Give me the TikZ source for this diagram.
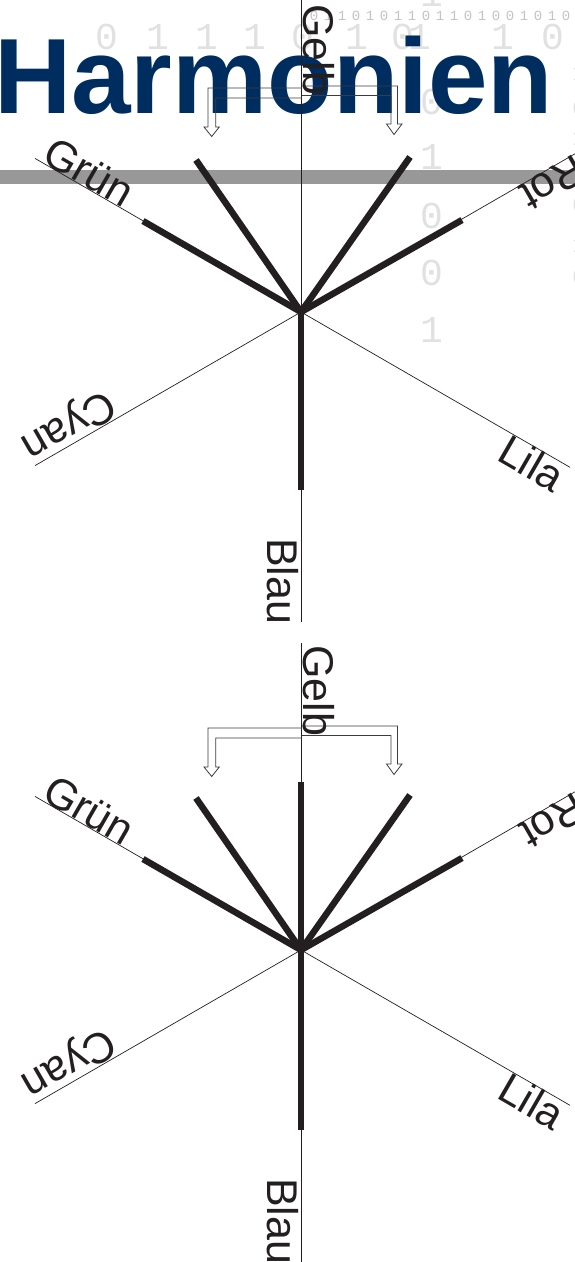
\documentclass[tikz,border=0pt]{standalone}
\usepackage{fontspec}
\setmainfont{Liberation Sans}
\newfontfamily\monofont{Liberation Mono}
\definecolor{navy}{RGB}{0,45,96}
\definecolor{ink}{RGB}{35,31,32}
\definecolor{barGray}{RGB}{152,152,152}
\definecolor{digitGray}{RGB}{225,225,225}
\definecolor{digitGrayB}{RGB}{195,195,195}
\definecolor{arrowGray}{RGB}{60,60,60}
\begin{document}
\begin{tikzpicture}[x=1pt,y=-1pt,
  thinline/.style={draw=ink, line width=0.7},
  thickline/.style={draw=ink, line width=6.5},
  lbl/.style={font=\fontsize{43}{43}\selectfont, inner sep=0pt, text=ink},
  titlestyle/.style={font=\bfseries\fontsize{107}{107}\selectfont, inner sep=0pt, text=navy},
  hollowarrow/.style={draw=arrowGray, line width=0.8},
  bigdigit/.style={font=\monofont\fontsize{38}{38}\selectfont, text=digitGray, inner sep=0pt},
  smalldigit/.style={font=\monofont\fontsize{14}{14}\selectfont, text=digitGrayB, inner sep=0pt},
  edgedigit/.style={font=\monofont\fontsize{22}{22}\selectfont, text=digitGray, inner sep=0pt}
]
\useasboundingbox (0,0) rectangle (575,1262);

% background digits
\foreach \x/\d [count=\i] in {107/0,158/1,207/1,255/1,303/0,357/1,403/0,420/1,503/1,553/0}
  \node[bigdigit] (bd\i) at (\x,37) {\d};
\foreach \y/\d [count=\i] in {-6/1,102/0,157/1,216/0,273/0,330/1}
  \node[bigdigit] (cd\i) at (432,\y) {\d};
\foreach \y/\d [count=\i] in {73/1,108/0,138/1,205/0,245/1,277/0}
  \node[edgedigit] (ed\i) at (579,\y) {\d};
\foreach \d [count=\i] in {0,1,1,0,1,0,1,1,0,1,1,0,1,0,0,1,0,1,0}
  \node[smalldigit] (sd\i) at ({314+(\i-1)*14},16) {\d};

% grey bar
\fill[barGray] (0,170) rectangle (575,184);

% title
\node[titlestyle, anchor=base west] (title) at (-6,113) {Harmonien};

% ---------- top star ----------
\coordinate (c1) at (301,312);
\coordinate (v1top) at (301,0);
\coordinate (v1bot) at (301,622);
\coordinate (g1) at (35,158.4);
\coordinate (l1) at (570,467.3);
\coordinate (r1) at (576,153.2);
\coordinate (cy1) at (35,465.6);
\draw[thinline] (v1top) -- (v1bot);
\draw[thinline] (g1) -- (l1);
\draw[thinline] (r1) -- (cy1);
\coordinate (t1a) at (301,490);
\coordinate (t1b) at (143,221);
\coordinate (t1c) at (196,160);
\coordinate (t1d) at (410,157);
\coordinate (t1e) at (462,220);
\foreach \e in {t1a,t1b,t1c,t1d,t1e} \draw[thickline] (c1) -- (\e);

\draw[hollowarrow] (302,88) -- (208,88) -- (208,127) -- (204,127) -- (211.7,136.5) -- (219.3,127) -- (215.7,127) -- (215.7,98) -- (302,98);
\draw[hollowarrow] (302,86) -- (397.5,86) -- (397.5,124) -- (402,124) -- (394,134.5) -- (386.5,124) -- (391,124) -- (391,95.5) -- (302,95.5);

\node[lbl, rotate=-90, anchor=base west] (gelb1) at (303,4) {Gelb};
\node[lbl, rotate=-90, anchor=north west] (blau1) at (299,538) {Blau};
\node[lbl, rotate=-30, anchor=base west] (gruen1) at (40,161) {Grün};
\node[lbl, rotate=-30, anchor=north east] (lila1) at (569,466) {Lila};
\node[lbl, rotate=210, anchor=base west] (rot1) at (575,153.5) {Rot};
\node[lbl, rotate=210, anchor=north east] (cyan1) at (34,466) {Cyan};

% ---------- bottom star ----------
\coordinate (c2) at (301,950);
\coordinate (v2top) at (301,643);
\coordinate (v2bot) at (301,1262);
\coordinate (g2) at (35,796.4);
\coordinate (l2) at (570,1105.3);
\coordinate (r2) at (576,791.2);
\coordinate (cy2) at (35,1103.6);
\draw[thinline] (v2top) -- (v2bot);
\draw[thinline] (g2) -- (l2);
\draw[thinline] (r2) -- (cy2);
\coordinate (t2a) at (301,1130);
\coordinate (t2up) at (301,782);
\coordinate (t2b) at (143,859);
\coordinate (t2c) at (196,798);
\coordinate (t2d) at (410,795);
\coordinate (t2e) at (462,858);
\foreach \e in {t2a,t2up,t2b,t2c,t2d,t2e} \draw[thickline] (c2) -- (\e);

\begin{scope}[shift={(0,640)}]
\draw[hollowarrow] (302,88) -- (208,88) -- (208,127) -- (204,127) -- (211.7,136.5) -- (219.3,127) -- (215.7,127) -- (215.7,98) -- (302,98);
\draw[hollowarrow] (302,86) -- (397.5,86) -- (397.5,124) -- (402,124) -- (394,134.5) -- (386.5,124) -- (391,124) -- (391,95.5) -- (302,95.5);
\end{scope}

\node[lbl, rotate=-90, anchor=base west] (gelb2) at (303,645) {Gelb};
\node[lbl, rotate=-90, anchor=north west] (blau2) at (299,1178) {Blau};
\node[lbl, rotate=-30, anchor=base west] (gruen2) at (40,799) {Grün};
\node[lbl, rotate=-30, anchor=north east] (lila2) at (569,1104) {Lila};
\node[lbl, rotate=210, anchor=base west] (rot2) at (575,791.5) {Rot};
\node[lbl, rotate=210, anchor=north east] (cyan2) at (34,1104) {Cyan};
\end{tikzpicture}
\end{document}
